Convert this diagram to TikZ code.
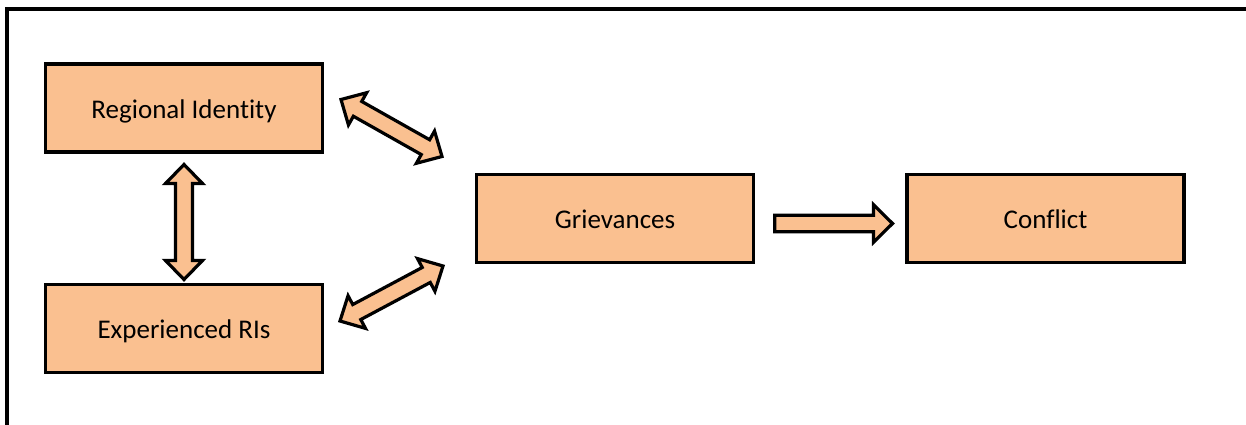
\documentclass[tikz,border=0pt]{standalone}
\usepackage{fontspec}
\setmainfont[RawFeature={-liga;-dlig;-clig}]{Carlito}
\usetikzlibrary{calc}
\definecolor{peach}{RGB}{250,192,144}
\tikzset{
  box/.style={draw=black, line width=3.2pt, fill=peach, minimum width=277pt, minimum height=88pt, outer sep=0pt, inner sep=0pt, text height=22pt, text depth=2pt, font=\fontsize{27pt}{32pt}\selectfont},
  blockarrow/.style={draw=black, line width=3.2pt, fill=peach, line join=miter},
  frame/.style={draw=black, line width=4pt}
}
% double block arrow: tips #1 and #2
\newcommand\mydblarrow[2]{%
  \filldraw[blockarrow] (#1)
    -- ($(#1)!19pt!(#2)!18.5pt!90:(#2)$)
    -- ($(#1)!19pt!(#2)!8.5pt!90:(#2)$)
    -- ($(#2)!19pt!(#1)!8.5pt!-90:(#1)$)
    -- ($(#2)!19pt!(#1)!18.5pt!-90:(#1)$)
    -- (#2)
    -- ($(#2)!19pt!(#1)!18.5pt!90:(#1)$)
    -- ($(#2)!19pt!(#1)!8.5pt!90:(#1)$)
    -- ($(#1)!19pt!(#2)!8.5pt!-90:(#2)$)
    -- ($(#1)!19pt!(#2)!18.5pt!-90:(#2)$)
    -- cycle;}
% single block arrow: tail #1, tip #2
\newcommand\mysglarrow[2]{%
  \filldraw[blockarrow] ($(#1)!8.3pt!90:(#2)$)
    -- ($(#2)!19pt!(#1)!8.3pt!-90:(#1)$)
    -- ($(#2)!19pt!(#1)!18.8pt!-90:(#1)$)
    -- (#2)
    -- ($(#2)!19pt!(#1)!18.8pt!90:(#1)$)
    -- ($(#2)!19pt!(#1)!8.3pt!90:(#1)$)
    -- ($(#1)!8.3pt!-90:(#2)$)
    -- cycle;}
\begin{document}
\begin{tikzpicture}[x=1pt,y=-1pt]
\useasboundingbox (0,0) rectangle (1246,425);
\begin{scope}
\clip (0,0) rectangle (1246,425);
\draw[frame] (7,440) -- (7,9.5) -- (1260,9.5);
\end{scope}

\node[box] (ri) at (184,108) {Regional Identity};
\node[box] (er) at (184,328.5) {Experienced RIs};
\node[box] (gr) at (615,218.5) {Grievances};
\node[box] (co) at (1045.5,218.5) {Conflict};

\coordinate (v1) at (184,164.5);
\coordinate (v2) at (184,279.5);
\coordinate (u1) at (341,99.5);
\coordinate (u2) at (442,156.5);
\coordinate (l1) at (340,321);
\coordinate (l2) at (443,266);
\coordinate (h1) at (774.7,223.5);
\coordinate (h2) at (892.5,223.5);

\mydblarrow{v1}{v2}
\mydblarrow{u1}{u2}
\mydblarrow{l1}{l2}
\mysglarrow{h1}{h2}
\end{tikzpicture}
\end{document}
